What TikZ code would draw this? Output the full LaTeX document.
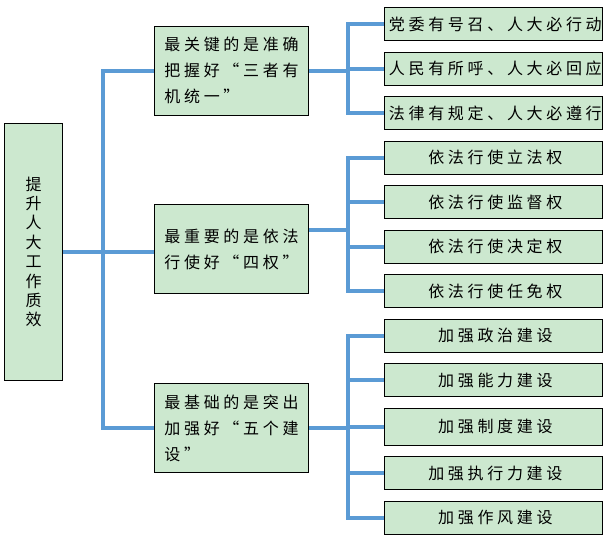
\documentclass[tikz,border=0pt]{standalone}
\usepackage{fontspec}
\newfontfamily\cjk{Noto Sans CJK SC}
\newfontfamily\cjkwide[LetterSpace=23]{Noto Sans CJK SC}
\usetikzlibrary{positioning}
\definecolor{linkblue}{RGB}{91,155,213}
\definecolor{boxgreen}{RGB}{204,232,207}

\begin{document}
\begin{tikzpicture}[x=1pt,y=-1pt,node distance=10.5pt,
    box/.style={draw=black,fill=boxgreen,line width=1pt,inner sep=1pt},
    rootbox/.style={box,minimum width=58pt,minimum height=257pt,align=center,
      font=\cjk\fontsize{16}{19.4}\selectfont},
    midbox/.style={box,minimum width=154pt,minimum height=89pt,align=left,
      font=\cjkwide\fontsize{16}{26}\selectfont},
    leaf/.style={box,minimum width=218pt,minimum height=33pt,
      font=\cjkwide\fontsize{16}{18}\selectfont,execute at end node={\kern-3.7pt}},
    link/.style={draw=linkblue,line width=4pt}]
  \useasboundingbox (0,0) rectangle (610,558);

  \node[rootbox] (root) at (33.5,252) {提\\升\\人\\大\\工\\作\\质\\效};

  \node[midbox] (m1) at (231.5,70.5) {最关键的是准确\\把握好“三者有\\机统一”};
  \node[midbox] (m2) at (231.5,249)  {最重要的是依法\\行使好“四权”};
  \node[midbox] (m3) at (231.5,428)  {最基础的是突出\\加强好“五个建\\设”};

  \node[leaf] (l1) at (493.5,24) {党委有号召、人大必行动};
  \node[leaf,below=of l1] (l2) {人民有所呼、人大必回应};
  \node[leaf,below=of l2] (l3) {法律有规定、人大必遵行};
  \node[leaf,below=of l3] (l4) {依法行使立法权};
  \node[leaf,below=of l4] (l5) {依法行使监督权};
  \node[leaf,below=of l5] (l6) {依法行使决定权};
  \node[leaf,below=of l6] (l7) {依法行使任免权};
  \node[leaf,below=of l7] (l8) {加强政治建设};
  \node[leaf,below=of l8] (l9) {加强能力建设};
  \node[leaf,below=of l9,minimum height=37pt] (l10) {加强制度建设};
  \node[leaf,below=of l10] (l11) {加强执行力建设};
  \node[leaf,below=of l11] (l12) {加强作风建设};

  \coordinate (trunk) at (103,0);
  \coordinate (fork) at (348,0);

  \draw[link] (root.east) -- (root.east -| m2.west);
  \draw[link] (m1.west) -- (m1.west -| trunk) |- (m3.west);

  \draw[link] (m1.east) -- (m1.east -| fork);
  \draw[link] (l1.west) -- (l1.west -| fork) |- (l3.west);
  \draw[link] (l2.west -| fork) -- (l2.west);

  \draw[link] ([yshift=19pt]m2.east) -- ([yshift=19pt]m2.east -| fork);
  \draw[link] (l4.west) -- (l4.west -| fork) |- (l7.west);
  \foreach \n in {l5,l6}
    \draw[link] (\n.west -| fork) -- (\n.west);

  \draw[link] (m3.east) -- (m3.east -| fork);
  \draw[link] (l8.west) -- (l8.west -| fork) |- (l12.west);
  \foreach \n in {l9,l10,l11}
    \draw[link] (\n.west -| fork) -- (\n.west);

\end{tikzpicture}
\end{document}
